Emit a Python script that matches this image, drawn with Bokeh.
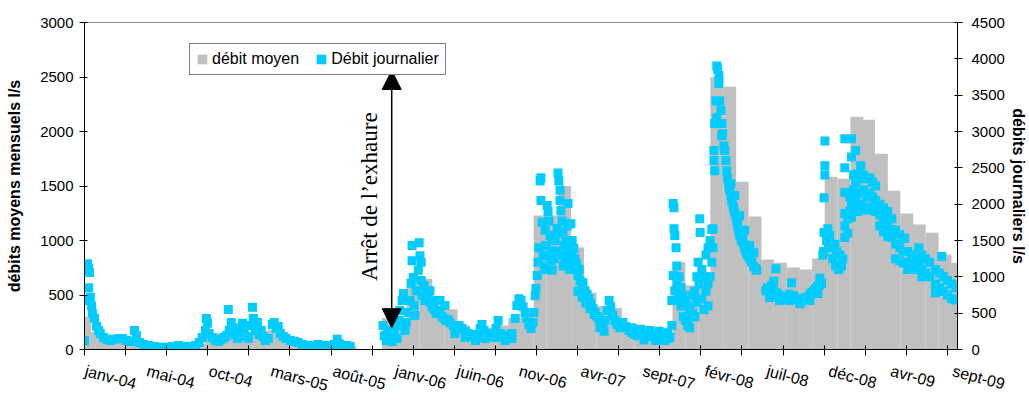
import numpy as np
import pandas as pd
from bokeh.plotting import figure
from bokeh.models import (Range1d, LinearAxis, FixedTicker, SingleIntervalTicker, Legend,
                          LegendItem, Label, Arrow, NormalHead)
from bokeh.embed import file_html
from bokeh.resources import INLINE

# ---------------- data ----------------
# monthly mean discharge (l/s, left axis), one bar per month from Jan 2004 to Oct 2009
month_first = "2004-01-01"
monthly_2004 = [300, 160, 90, 80, 80, 40, 30, 30, 30, 50, 150, 150]
monthly_2005 = [180, 160, 170, 180, 100, 70, 40, 40, 40, 30, 0, 0]
monthly_2006 = [290, 290, 650, 650, 400, 370, 220, 170, 200, 220, 290, 300]
monthly_2007 = [1230, 1230, 1500, 935, 520, 400, 380, 175, 110, 100, 100, 800]
monthly_2008 = [587, 700, 2500, 2410, 1540, 1220, 825, 797, 752, 733, 834, 1586]
monthly_2009 = [1567, 2136, 2108, 1796, 1457, 1247, 1146, 1072, 871, 797]

# daily discharge (l/s, right axis): (days since 2004-01-01, flow)
daily_2004_05 = [(0,120),(2,670),(5,1150),(7,1180),(10,1110),(10,850),(12,1060),(14,720),(17,600),
    (19,500),(24,430),(29,320),(34,260),(38,220),(46,165),(53,140),(62,125),(72,140),(82,150),
    (91,150),(101,125),(110,110),(120,260),(125,190),(132,95),(142,70),(154,55),(168,40),(183,30),
    (197,30),(211,40),(226,55),(240,40),(255,40),(267,55),(276,95),(283,165),(291,260),(293,425),
    (296,360),(300,220),(307,165),(315,125),(322,110),(329,140),(336,165),(341,190),(346,550),
    (348,260),(353,370),(358,300),(363,205),(368,150),(375,260),(380,360),(384,260),(389,180),
    (394,150),(401,330),(404,580),(406,425),(411,260),(416,370),(420,205),(425,260),(430,180),
    (435,125),(442,150),(452,345),(456,370),(461,290),(466,315),(471,220),(478,180),(485,150),
    (495,125),(505,110),(514,95),(524,70),(533,55),(543,55),(553,55),(562,70),(572,55),(581,40),
    (591,55),(601,70),(608,140),(613,80),(620,55),(630,55),(639,40)]
daily_2006 = [(718,330),(721,190),(726,125),(730,260),(735,150),(740,110),(745,220),(750,330),
    (752,150),(757,400),(759,535),(764,675),(767,770),(771,260),(774,370),(779,510),(783,675),
    (786,910),(788,1430),(788,1220),(791,990),(793,605),(795,470),(798,810),(803,1090),(805,1470),
    (807,1290),(810,1200),(810,950),(812,740),(817,880),(819,675),(822,770),(827,700),(831,650),
    (831,810),(836,590),(841,550),(843,675),(846,495),(851,535),(855,510),(855,675),(860,455),
    (865,425),(867,605),(870,400),(875,410),(879,370),(887,330),(891,220),(894,300),(901,330),
    (908,290),(916,250),(916,165),(923,220),(930,190),(937,205),(940,125),(944,180),(952,290),
    (956,345),(961,260),(964,150),(968,220),(976,190),(983,205),(988,165),(990,290),(995,400),
    (1000,220),(1007,180),(1012,125),(1014,165),(1021,190),(1028,220),(1028,150),(1036,425),
    (1040,605),(1045,700),(1050,675),(1055,590),(1060,510),(1064,425),(1069,345),(1074,290),
    (1079,370),(1081,510),(1084,740),(1086,840),(1089,1020)]
daily_2007 = [(1091,1200),(1093,1400),(1096,2320),(1098,2365),(1098,2050),(1101,1750),(1103,1290),
    (1106,1150),(1108,1640),(1110,1430),(1110,1100),(1113,1980),(1115,1900),(1117,1770),(1118,1300),
    (1120,1570),(1122,1220),(1124,1500),(1125,1090),(1127,1360),(1130,1250),(1132,1500),(1135,1350),
    (1137,1660),(1139,2430),(1140,1600),(1141,2320),(1144,2190),(1144,2050),(1146,1910),(1147,1300),
    (1149,1770),(1151,1610),(1152,1150),(1153,1430),(1156,1250),(1158,1500),(1160,1450),(1161,1700),
    (1163,2010),(1165,1360),(1166,1100),(1168,1200),(1170,1730),(1172,1300),(1173,1500),(1175,1150),
    (1177,1390),(1180,1250),(1182,1110),(1184,1180),(1187,1020),(1187,800),(1190,1100),(1192,950),
    (1197,910),(1197,720),(1199,920),(1204,810),(1206,640),(1209,760),(1214,700),(1216,560),
    (1218,630),(1223,565),(1226,480),(1228,510),(1233,455),(1237,425),(1240,300),(1242,370),
    (1247,330),(1250,250),(1252,400),(1257,535),(1262,675),(1266,590),(1271,470),(1276,400),
    (1281,345),(1288,300),(1295,370),(1302,315),(1310,260),(1317,235),(1317,300),(1324,205),
    (1331,190),(1338,220),(1338,280),(1346,205),(1346,130),(1353,180),(1360,190),(1360,260),
    (1367,180),(1374,165),(1374,125),(1382,190),(1382,250),(1389,165),(1396,180),(1396,125),
    (1403,150),(1403,230),(1408,165),(1413,675),(1413,330),(1416,1020),(1416,2010),(1418,1950),
    (1418,1660),(1420,1570),(1420,810),(1423,1400),(1425,1150),(1425,900),(1430,1000),(1430,700),
    (1435,850),(1435,600),(1440,750),(1440,450),(1446,650),(1446,400),(1451,600),(1451,330),
    (1456,550),(1456,300)]
daily_2008 = [(1463,750),(1463,500),(1468,800),(1468,450),(1473,1000),(1473,650),(1476,1200),
    (1478,900),(1480,1800),(1481,1610),(1485,1100),(1485,700),(1490,1000),(1490,550),(1495,1300),
    (1495,800),(1500,1400),(1500,900),(1500,600),(1505,1500),(1505,1000),(1509,1650),(1509,1200),
    (1512,1660),(1512,1400),(1514,2600),(1514,2740),(1516,2460),(1516,3110),(1519,3420),(1521,3190),
    (1521,3900),(1523,3860),(1526,3770),(1526,3660),(1528,3420),(1531,3290),(1533,3110),(1533,2940),
    (1535,2970),(1538,2800),(1540,2740),(1543,2600),(1545,2460),(1547,2350),(1550,2250),(1552,2190),
    (1555,2120),(1555,2280),(1557,2050),(1560,1980),(1562,1940),(1564,1880),(1564,2120),(1567,1830),
    (1569,1770),(1571,1700),(1574,1640),(1576,1580),(1576,1840),(1579,1530),(1581,1490),(1584,1550),
    (1586,1440),(1588,1400),(1588,1640),(1591,1360),(1593,1320),(1596,1290),(1600,1250),(1600,1430),
    (1605,1200),(1610,1140),(1610,1330),(1615,1110),(1617,1090),(1639,810),(1643,850),(1648,840),
    (1648,715),(1653,880),(1658,940),(1658,810),(1663,780),(1663,1110),(1667,760),(1672,740),
    (1672,675),(1677,730),(1682,715),(1687,700),(1692,715),(1696,760),(1696,675),(1701,920),
    (1706,740),(1711,700),(1716,690),(1721,675),(1721,630),(1725,660),(1730,690),(1735,715),
    (1740,700),(1745,760),(1745,675),(1749,780),(1754,810),(1759,840),(1764,870),(1764,770),
    (1769,890),(1769,980),(1773,910),(1776,1300),(1778,1350),(1779,1610),(1779,2090),(1781,2400),
    (1781,2530),(1781,2870),(1785,1500),(1788,1660),(1790,1460),(1793,1570),(1797,1400),(1800,1250),
    (1805,1450),(1807,1150),(1810,1350),(1814,1100),(1817,1300),(1821,1150),(1824,1250)]
daily_2009 = [(1829,1540),(1829,1700),(1829,1870),(1829,2160),(1829,2500),(1829,2900),(1836,1600),
    (1836,1800),(1841,1900),(1841,2100),(1845,2650),(1845,2900),(1845,2000),(1845,1820),(1850,2400),
    (1850,2200),(1850,1950),(1855,2740),(1855,2300),(1855,2050),(1860,2420),(1860,2150),(1860,1900),
    (1867,2530),(1867,2350),(1867,2000),(1874,2400),(1874,2200),(1874,1950),(1882,2350),(1882,2100),
    (1882,1920),(1889,2360),(1889,2150),(1889,1960),(1896,2300),(1896,2100),(1896,1950),(1903,2250),
    (1903,2050),(1903,1900),(1913,2000),(1913,1850),(1913,1700),(1922,1950),(1922,1800),(1922,1620),
    (1932,1900),(1932,1720),(1932,1560),(1942,1800),(1942,1650),(1942,1540),(1951,1640),(1951,1450),
    (1951,1250),(1961,1580),(1961,1400),(1961,1220),(1970,1530),(1970,1350),(1970,1190),(1973,1530),
    (1980,1350),(1980,1200),(1980,1100),(1990,1300),(1990,1150),(2000,1250),(2000,1100),(2007,1400),
    (2007,1200),(2014,1300),(2014,1100),(2014,1000),(2023,1250),(2023,1050),(2033,1200),(2033,1000),
    (2047,1100),(2047,900),(2047,780),(2057,1050),(2057,850),(2062,1280),(2066,1000),(2066,800),
    (2076,950),(2076,750),(2086,900),(2086,700),(2095,850),(2095,680)]

x_labels = ["janv-04", "mai-04", "oct-04", "mars-05", "août-05", "janv-06", "juin-06", "nov-06",
            "avr-07", "sept-07", "févr-08", "juil-08", "déc-08", "avr-09", "sept-09"]
x_label_days = [2, 151, 300, 449, 598, 748, 897, 1046, 1195, 1344, 1493, 1642, 1791, 1940, 2089]
x_tick_step = 98.85
n_x_ticks = 22

# ---------------- derived ----------------
monthly_mean = monthly_2004 + monthly_2005 + monthly_2006 + monthly_2007 + monthly_2008 + monthly_2009
origin = pd.Timestamp(month_first)
month_days = list((pd.date_range(month_first, periods=len(monthly_mean), freq="MS") - origin).days)
daily_all = daily_2004_05 + daily_2006 + daily_2007 + daily_2008 + daily_2009
daily_day = [d for d, v in daily_all]
daily_flow = [v for d, v in daily_all]

FONT = "Liberation Sans"
GRAY = "#C0C0C0"
CYAN = "#00CCFF"

# layout (screen pixels)
W, H = 1029, 405
FRAME_L, FRAME_R, FRAME_T, FRAME_B = 84, 958, 22, 349

p = figure(width=W, height=H, x_range=Range1d(0, 2100), y_range=Range1d(0, 3000),
           output_backend="svg", toolbar_location=None,
           min_border_left=FRAME_L, min_border_right=W - FRAME_R,
           min_border_top=FRAME_T, min_border_bottom=H - FRAME_B)
p.extra_y_ranges = {"daily": Range1d(0, 4500)}
p.xgrid.visible = False
p.ygrid.visible = False
p.outline_line_color = "#8c8c8c"
p.background_fill_color = "white"
p.border_fill_color = "white"

bars = p.vbar(x=month_days, width=31, top=monthly_mean, bottom=0,
              fill_color=GRAY, line_color=None)
pts = p.scatter(x=daily_day, y=daily_flow, y_range_name="daily", marker="square", size=9,
                fill_color=CYAN, line_color=None)
# invisible renderer used only for the legend swatch
legend_swatch = p.quad(left=[np.nan], right=[np.nan], top=[np.nan], bottom=[np.nan],
                       fill_color=CYAN, line_color=None)

# x axis: tick marks (minor ticks) every ~99 days, rotated date labels at their own positions
xa = p.xaxis[0]
xa.ticker = FixedTicker(ticks=x_label_days,
                        minor_ticks=[i * x_tick_step for i in range(n_x_ticks)])
xa.major_label_overrides = {d: t for d, t in zip(x_label_days, x_labels)}
xa.major_label_orientation = -0.2618
xa.major_tick_in = 0
xa.major_tick_out = 0
xa.major_tick_line_color = None
xa.minor_tick_in = 4
xa.minor_tick_out = 6
xa.minor_tick_line_color = "black"
xa.axis_line_color = "black"
xa.major_label_text_font = FONT
xa.major_label_text_font_size = "16px"
xa.major_label_text_color = "black"
xa.major_label_standoff = 15

def style_y(ax, tick_standoff, label_standoff):
    ax.ticker = SingleIntervalTicker(interval=500, num_minor_ticks=0)
    ax.major_tick_in = 3
    ax.major_tick_out = 5
    ax.minor_tick_line_color = None
    ax.axis_line_color = "black"
    ax.major_tick_line_color = "black"
    ax.major_label_text_font = FONT
    ax.major_label_text_font_size = "15px"
    ax.major_label_text_color = "black"
    ax.major_label_standoff = tick_standoff
    ax.axis_label_text_font = FONT
    ax.axis_label_text_font_size = "16px"
    ax.axis_label_text_font_style = "bold"
    ax.axis_label_text_color = "black"
    ax.axis_label_standoff = label_standoff

ya = p.yaxis[0]
ya.axis_label = "débits moyens mensuels l/s"
style_y(ya, 6, 14)

yr = LinearAxis(y_range_name="daily", axis_label="débits journaliers l/s")
style_y(yr, 9, 2)
p.add_layout(yr, "right")

# annotation: stop of dewatering
p.add_layout(Arrow(start=NormalHead(size=19, fill_color="black", line_color="black"),
                   end=NormalHead(size=19, fill_color="black", line_color="black"),
                   x_start=739, y_start=200, x_end=739, y_end=2560,
                   line_color="black", line_width=1.5))
p.add_layout(Label(x=686, y=1402, text="Arrêt de l’exhaure", angle=np.pi / 2,
                   text_align="center", text_baseline="middle",
                   text_font="Liberation Serif", text_font_size="23px", text_color="black"))

legend = Legend(items=[LegendItem(label="débit moyen", renderers=[bars]),
                       LegendItem(label="Débit journalier", renderers=[legend_swatch])],
                location=(105, 274), orientation="horizontal", padding=6, spacing=16,
                glyph_width=12, glyph_height=12, label_standoff=4, label_height=18,
                label_text_font=FONT, label_text_font_size="16px", label_text_color="black",
                border_line_color="black", border_line_width=1, background_fill_color="white",
                background_fill_alpha=1, margin=0)
p.add_layout(legend)

open("out.html", "w").write(file_html(p, INLINE))
